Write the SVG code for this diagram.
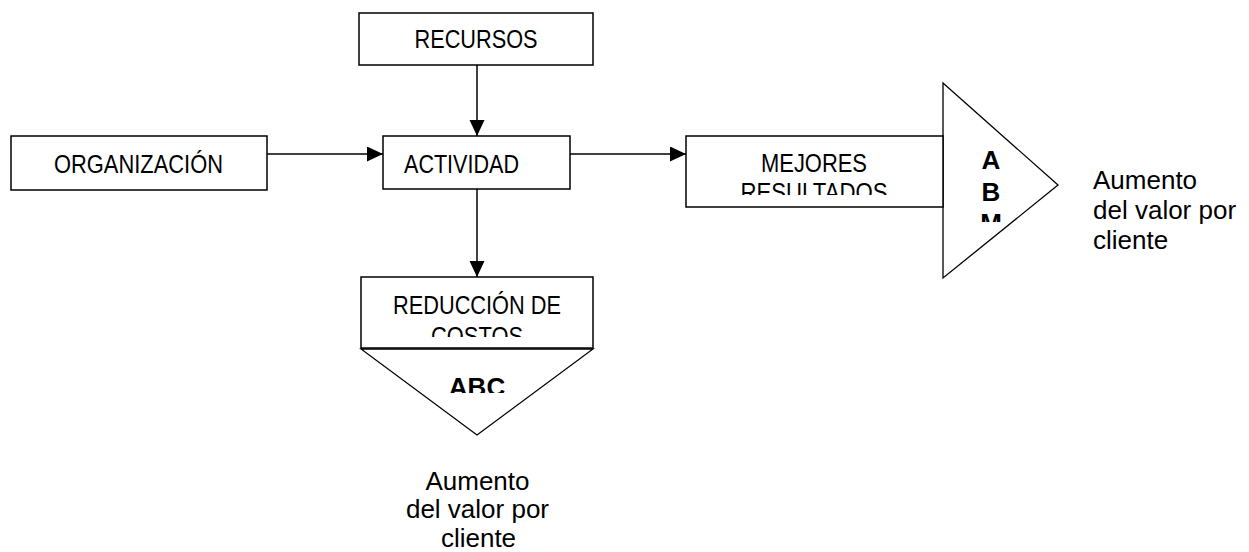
<svg xmlns="http://www.w3.org/2000/svg" width="1249" height="552" viewBox="0 0 1249 552">
<style>
.box{fill:#fff;stroke:#000;stroke-width:1.5}
.tri{fill:#fff;stroke:#000;stroke-width:1.3}
.nt{font-family:"Liberation Sans",Arial,sans-serif;font-size:25px;fill:#000}
.bt{font-family:"Liberation Sans",Arial,sans-serif;font-size:26px;font-weight:bold;fill:#000;text-anchor:middle}
.lt{font-family:"Liberation Sans",Arial,sans-serif;font-size:26px;fill:#000}
.c{text-anchor:middle}
.ln{stroke:#000;stroke-width:1.5;fill:none}
</style>
<defs>
<marker id="ah" markerUnits="userSpaceOnUse" markerWidth="16" markerHeight="16" refX="16" refY="7.5" orient="auto">
<path d="M0,0 L16,7.5 L0,15 Z" fill="#000"/>
</marker>
<clipPath id="cm"><rect x="686" y="136" width="257" height="59"/></clipPath>
<clipPath id="cr"><rect x="361" y="277" width="232" height="60"/></clipPath>
<clipPath id="cabm"><rect x="943" y="83" width="115" height="139"/></clipPath>
<clipPath id="cabc"><rect x="361" y="348" width="232" height="45"/></clipPath>
</defs>
<rect width="1249" height="552" fill="#fff"/>
<g id="recursos">
<rect class="box" x="359" y="13" width="234" height="52"/>
<text class="nt c" x="476" y="47.7" textLength="123" lengthAdjust="spacingAndGlyphs">RECURSOS</text>
</g>
<g id="organizacion">
<rect class="box" x="11" y="136" width="256" height="54"/>
<text class="nt c" x="138.5" y="172.7" textLength="169" lengthAdjust="spacingAndGlyphs">ORGANIZACIÓN</text>
</g>
<g id="actividad">
<rect class="box" x="383" y="136" width="187" height="53"/>
<text class="nt" x="404" y="172.7" textLength="115" lengthAdjust="spacingAndGlyphs">ACTIVIDAD</text>
</g>
<g id="abm">
<polygon class="tri" points="943,83 1058,185 943,278"/>
<g clip-path="url(#cabm)">
<text class="bt" x="991" y="169.3">A</text>
<text class="bt" x="991" y="201">B</text>
<text class="bt" x="991" y="232">M</text>
</g>
</g>
<g id="mejores">
<rect class="box" x="686" y="136" width="257" height="71"/>
<g clip-path="url(#cm)">
<text class="nt c" x="814" y="171.7" textLength="106" lengthAdjust="spacingAndGlyphs">MEJORES</text>
<text class="nt c" x="814" y="201.2" textLength="147" lengthAdjust="spacingAndGlyphs">RESULTADOS</text>
</g>
</g>
<g id="reduccion">
<rect class="box" x="361" y="277" width="232" height="71"/>
<g clip-path="url(#cr)">
<text class="nt c" x="477" y="314" textLength="168" lengthAdjust="spacingAndGlyphs">REDUCCIÓN DE</text>
<text class="nt c" x="477" y="344.5" textLength="92" lengthAdjust="spacingAndGlyphs">COSTOS</text>
</g>
</g>
<g id="abc">
<polygon class="tri" points="361,349 593,349 477,435"/>
<g clip-path="url(#cabc)">
<text class="bt" x="477" y="395.5">ABC</text>
</g>
</g>
<g id="valor-derecha">
<text class="lt" x="1093" y="189.3">Aumento</text>
<text class="lt" x="1093" y="219">del valor por</text>
<text class="lt" x="1093" y="249.3">cliente</text>
</g>
<g id="valor-abajo">
<text class="lt c" x="477.5" y="489.5">Aumento</text>
<text class="lt c" x="477.5" y="518">del valor por</text>
<text class="lt c" x="478.5" y="546.5">cliente</text>
</g>
<g id="connectors">
<line class="ln" x1="477" y1="65" x2="477" y2="136" marker-end="url(#ah)"/>
<line class="ln" x1="267" y1="154" x2="383" y2="154" marker-end="url(#ah)"/>
<line class="ln" x1="570" y1="154" x2="686" y2="154" marker-end="url(#ah)"/>
<line class="ln" x1="477" y1="189" x2="477" y2="277" marker-end="url(#ah)"/>
</g>
</svg>
